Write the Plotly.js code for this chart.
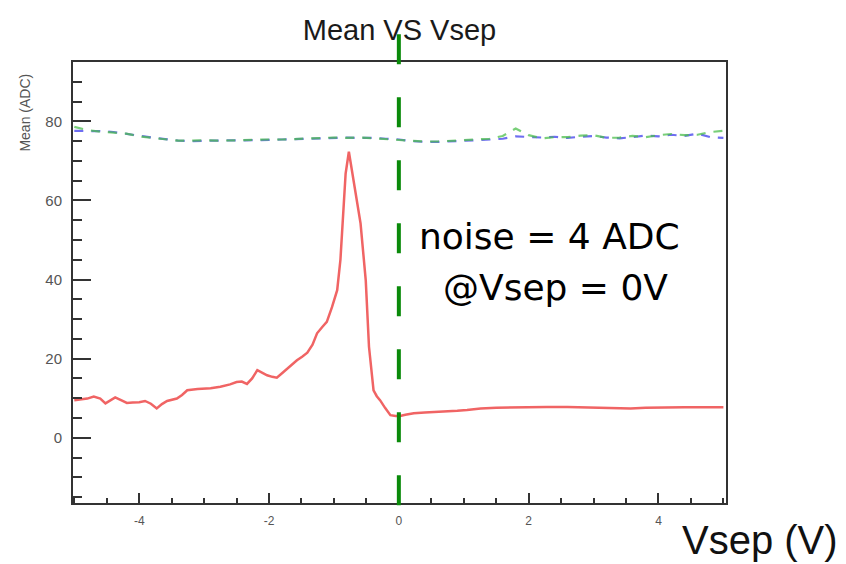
<!DOCTYPE html>
<html>
<head>
<meta charset="utf-8">
<script src="https://cdn.plot.ly/plotly-3.0.1.min.js"></script>
<style>
html,body{margin:0;padding:0;background:#fff;}
#chart{width:846px;height:564px;}
</style>
</head>
<body>
<div id="chart"></div>
<script>
// ---- data ----
var redX = [-5.0,-4.9,-4.8,-4.7,-4.6,-4.52,-4.45,-4.37,-4.28,-4.19,-4.1,-4.0,-3.91,-3.82,-3.73,-3.65,-3.57,-3.49,-3.42,-3.34,-3.26,-3.1,-2.9,-2.75,-2.6,-2.5,-2.42,-2.34,-2.26,-2.18,-2.1,-2.03,-1.95,-1.88,-1.8,-1.72,-1.64,-1.57,-1.49,-1.41,-1.33,-1.26,-1.18,-1.11,-1.03,-0.95,-0.9,-0.86,-0.82,-0.77,-0.73,-0.7,-0.65,-0.59,-0.55,-0.51,-0.46,-0.42,-0.39,-0.34,-0.29,-0.21,-0.13,-0.05,0.02,0.1,0.23,0.4,0.55,0.74,0.9,1.05,1.26,1.5,1.8,2.0,2.28,2.6,2.9,3.2,3.57,3.8,4.1,4.4,4.7,5.0];
var redY = [9.5,9.7,9.9,10.4,9.9,8.7,9.5,10.2,9.5,8.8,8.9,9.0,9.3,8.6,7.4,8.5,9.3,9.6,9.9,10.8,12.0,12.3,12.5,12.9,13.5,14.1,14.2,13.6,15.0,17.1,16.4,15.8,15.4,15.2,16.3,17.5,18.8,19.6,20.5,21.5,23.5,26.4,28.0,29.3,33.0,37.3,45.0,55.0,66.8,72.3,68.0,65.0,60.0,54.2,47.0,39.8,23.0,16.5,12.0,10.5,9.5,7.5,5.7,5.5,5.5,5.8,6.2,6.4,6.5,6.6,6.8,7.0,7.4,7.6,7.7,7.8,7.8,7.8,7.7,7.6,7.4,7.6,7.7,7.7,7.7,7.7];

var dashX = [-5.0,-4.8,-4.6,-4.4,-4.2,-4.0,-3.8,-3.6,-3.4,-3.2,-3.0,-2.8,-2.6,-2.4,-2.2,-2.0,-1.8,-1.6,-1.4,-1.2,-1.0,-0.8,-0.6,-0.4,-0.2,0.0,0.2,0.4,0.6,0.8,1.0,1.2,1.4,1.6,1.8,2.0,2.2,2.4,2.6,2.8,3.0,3.2,3.4,3.6,3.8,4.0,4.2,4.4,4.6,4.8,5.0];
var blueY = [77.6,77.6,77.5,77.3,76.8,76.3,75.9,75.5,75.1,75.0,75.1,75.1,75.2,75.2,75.2,75.3,75.4,75.5,75.6,75.7,75.8,75.9,75.8,75.8,75.6,75.4,75.0,74.8,74.8,75.0,75.1,75.2,75.4,75.6,76.2,76.1,75.9,76.1,75.8,76.1,76.3,75.9,75.7,76.0,76.4,76.2,76.6,76.3,76.9,76.0,75.8];
var greenY = [78.6,77.8,77.4,77.2,76.9,76.2,75.8,75.4,75.1,75.1,75.2,75.1,75.2,75.3,75.3,75.4,75.4,75.5,75.7,75.7,75.9,75.8,75.9,75.7,75.5,75.3,75.1,74.9,74.9,75.1,75.3,75.4,75.6,76.3,78.2,76.5,75.7,76.0,76.0,76.4,76.5,75.8,75.9,76.3,76.0,76.5,76.8,76.5,76.6,77.3,77.6];

var xTicks = [-4, -2, 0, 2, 4];
var yTicks = [0, 20, 40, 60, 80];
var markerX = 0;

var titleText = 'Mean VS Vsep';
var yTitleText = 'Mean (ADC)';
var xTitleText = 'Vsep (V)';
var noteLine1 = 'noise = 4 ADC';
var noteLine2 = '@Vsep = 0V';

// ---- traces ----
var traces = [
  {x: dashX, y: blueY, type: 'scatter', mode: 'lines', line: {color: '#4a4aee', width: 2.2, dash: '9px,8px'}, opacity: 0.8, hoverinfo: 'skip'},
  {x: dashX, y: greenY, type: 'scatter', mode: 'lines', line: {color: '#4cbf4c', width: 2.2, dash: '9px,8px'}, opacity: 0.75, hoverinfo: 'skip'},
  {x: redX, y: redY, type: 'scatter', mode: 'lines', line: {color: '#f06464', width: 2.5}, hoverinfo: 'skip'}
];

var axisCommon = {
  showgrid: false, zeroline: false, showline: true, mirror: true,
  linecolor: '#333', linewidth: 2, ticks: 'inside', tickcolor: '#333', tickwidth: 2
};

var layout = {
  width: 846, height: 564,
  margin: {l: 73, r: 120, t: 62, b: 61, pad: 0},
  paper_bgcolor: '#fff', plot_bgcolor: '#fff',
  showlegend: false,
  font: {family: 'Liberation Sans, Arial, sans-serif', color: '#333'},
  title: {
    text: titleText, x: 0.5, xref: 'paper', y: 1 - 30/564, yref: 'container', yanchor: 'middle',
    font: {family: 'Liberation Sans, Arial, sans-serif', size: 29, color: '#1a1a1a'}
  },
  xaxis: Object.assign({}, axisCommon, {
    range: [-5.02, 5.04], tickmode: 'array', tickvals: xTicks, ticktext: xTicks.map(String),
    ticklen: 10, ticklabelstandoff: 6,
    tickfont: {size: 12, color: '#555'},
    minor: {dtick: 0.5, tick0: 0, ticks: 'inside', ticklen: 5, tickwidth: 2, tickcolor: '#333', showgrid: false}
  }),
  yaxis: Object.assign({}, axisCommon, {
    range: [-16.5, 95], tickmode: 'array', tickvals: yTicks, ticktext: yTicks.map(String),
    ticklen: 18, ticklabelstandoff: 6,
    tickfont: {size: 15, color: '#555'},
    minor: {dtick: 5, tick0: 0, ticks: 'inside', ticklen: 9, tickwidth: 2, tickcolor: '#333', showgrid: false}
  }),
  shapes: [
    {type: 'line', xref: 'x', yref: 'paper', x0: markerX, x1: markerX, y0: -0.005, y1: 1.074,
     line: {color: '#0a8a0a', width: 4, dash: '30px,33px'}, layer: 'above'}
  ],
  annotations: [
    {text: yTitleText, xref: 'paper', yref: 'paper', x: -0.073, y: 0.886, textangle: -90,
     showarrow: false, xanchor: 'center', yanchor: 'middle',
     font: {family: 'Liberation Sans, Arial, sans-serif', size: 14, color: '#555'}},
    {text: xTitleText, xref: 'paper', yref: 'paper', x: 1.052, y: -0.084,
     showarrow: false, xanchor: 'center', yanchor: 'middle',
     font: {family: 'Liberation Sans, Arial, sans-serif', size: 40, color: '#111'}},
    {text: noteLine1, xref: 'paper', yref: 'paper', x: (549-73)/653, y: (503-236)/441,
     showarrow: false, xanchor: 'center', yanchor: 'middle',
     font: {family: 'DejaVu Sans, sans-serif', size: 36, color: '#000'}},
    {text: noteLine2, xref: 'paper', yref: 'paper', x: (555-73)/653, y: (503-287)/441,
     showarrow: false, xanchor: 'center', yanchor: 'middle',
     font: {family: 'DejaVu Sans, sans-serif', size: 36, color: '#000'}}
  ]
};

Plotly.newPlot('chart', traces, layout, {staticPlot: true, displayModeBar: false});
</script>
</body>
</html>
